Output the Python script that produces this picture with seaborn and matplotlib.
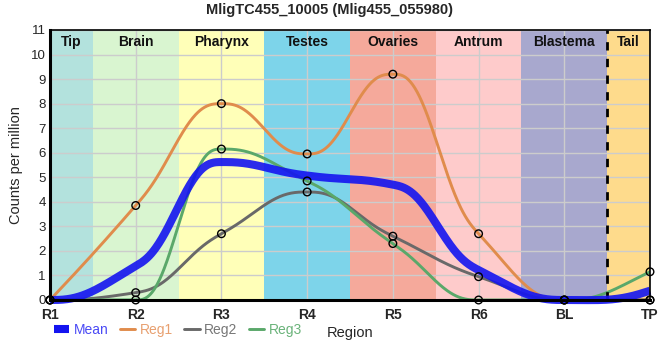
import numpy as np
import pandas as pd
import matplotlib
matplotlib.use("Agg")
import matplotlib.pyplot as plt
import seaborn as sns
from matplotlib.lines import Line2D

regions = ["R1", "R2", "R3", "R4", "R5", "R6", "BL", "TP"]
reg1 = [0.0, 3.85, 8.0, 5.95, 9.2, 2.7, 0.0, 0.0]
reg2 = [0.0, 0.3, 2.7, 4.4, 2.6, 0.95, 0.0, 0.0]
reg3 = [0.0, 0.0, 6.15, 4.85, 2.3, 0.0, 0.0, 1.15]
mean = [0.0, 1.38, 5.62, 5.07, 4.7, 1.22, 0.0, 0.38]

band_names = ["Tip", "Brain", "Pharynx", "Testes", "Ovaries", "Antrum", "Blastema", "Tail"]
band_colors = ["#b3e2dd", "#d9f5d0", "#ffffb8", "#7dd4ea", "#f5a99b", "#fecbcb", "#a8a8ce", "#fedb8c"]

title = "MligTC455_10005 (Mlig455_055980)"


def smooth_curve(x, y, xn):
    """Monotone (PCHIP) tangents with quintic Hermite segments."""
    x = np.asarray(x, float); y = np.asarray(y, float)
    h = np.diff(x); d = np.diff(y) / h
    n = len(x); m = np.zeros(n)
    for k in range(1, n - 1):
        if d[k - 1] * d[k] <= 0:
            m[k] = 0
        else:
            w1 = 2 * h[k] + h[k - 1]; w2 = h[k] + 2 * h[k - 1]
            m[k] = (w1 + w2) / (w1 / d[k - 1] + w2 / d[k])
    def endp(h0, h1, d0, d1):
        s = ((2 * h0 + h1) * d0 - h0 * d1) / (h0 + h1)
        if np.sign(s) != np.sign(d0):
            s = 0
        elif np.sign(d0) != np.sign(d1) and abs(s) > 3 * abs(d0):
            s = 3 * d0
        return s
    m[0] = endp(h[0], h[1], d[0], d[1])
    m[-1] = endp(h[-1], h[-2], d[-1], d[-2])
    idx = np.clip(np.searchsorted(x, xn) - 1, 0, n - 2)
    t = (xn - x[idx]) / h[idx]
    h00 = 1 - 10 * t**3 + 15 * t**4 - 6 * t**5
    h01 = 10 * t**3 - 15 * t**4 + 6 * t**5
    h10 = t - 6 * t**3 + 8 * t**4 - 3 * t**5
    h11 = -4 * t**3 + 7 * t**4 - 3 * t**5
    return h00 * y[idx] + h10 * h[idx] * m[idx] + h01 * y[idx + 1] + h11 * h[idx] * m[idx + 1]


xpos = np.arange(len(regions))
xd = np.linspace(0, len(regions) - 1, 800)

sns.set_theme(style="white")
plt.rcParams["font.family"] = ["Liberation Sans", "DejaVu Sans"]

fig = plt.figure(figsize=(6.6, 3.6), dpi=100)
ax = fig.add_axes([50 / 660, 60 / 360, 600 / 660, 270 / 360])

for i, (nm, c) in enumerate(zip(band_names, band_colors)):
    lo = max(i - 0.5, 0); hi = min(i + 0.5, len(regions) - 1)
    ax.axvspan(lo, hi, color=c, lw=0, zorder=0)
    ax.text((lo + hi) / 2, 10.5, nm, ha="center", va="center", fontsize=10,
            fontweight="bold", color="#111111", zorder=5)

ax.set_xlim(0, len(regions) - 1)
ax.set_ylim(0, 11)
ax.set_yticks(range(0, 12))
ax.set_xticks(xpos)
ax.set_xticklabels(regions, fontweight="bold")
ax.grid(True, color="#cccccc", lw=1, zorder=1)
for gl in ax.get_xgridlines() + ax.get_ygridlines():
    gl.set_zorder(1)

ax.axvline(6.5, color="black", lw=2, ls=(0, (3, 3)), zorder=4)

series = [("Reg1", reg1, "#e08c4c"), ("Reg2", reg2, "#696969"), ("Reg3", reg3, "#5aa86a")]
for name, vals, col in series:
    df = pd.DataFrame({"x": xd, "y": smooth_curve(xpos, vals, xd)})
    sns.lineplot(data=df, x="x", y="y", ax=ax, color=col, lw=2.1, zorder=3)

dfm = pd.DataFrame({"x": xd, "y": smooth_curve(xpos, mean, xd)})
sns.lineplot(data=dfm, x="x", y="y", ax=ax, color="#1414f0", lw=5.8, alpha=0.9, zorder=4)
ln = ax.lines[-1]
ln.set_clip_on(False)
ln.set_solid_capstyle("butt")

for name, vals, col in series:
    dfp = pd.DataFrame({"x": xpos, "y": vals})
    sns.scatterplot(data=dfp, x="x", y="y", ax=ax, s=30, facecolor="none",
                    edgecolor="black", linewidth=1, zorder=6, clip_on=False)

for sp in ["left", "bottom"]:
    ax.spines[sp].set_linewidth(2.2)
for sp in ["top", "right"]:
    ax.spines[sp].set_linewidth(1.2)
for sp in ax.spines.values():
    sp.set_color("black"); sp.set_zorder(7)

ax.tick_params(axis="x", length=4, width=1, color="black", labelsize=10, pad=2)
ax.tick_params(axis="y", length=0, labelsize=9.5, pad=3)
ax.set_ylabel("Counts per million", fontsize=10.5, labelpad=6)
ax.set_xlabel("Region", fontsize=10.5, labelpad=3)
fig.text(0.5, 1 - 10 / 360, title, ha="center", va="center", fontsize=10.5, fontweight="bold")

handles = [Line2D([], [], color="#1414f0", lw=5.8, solid_capstyle="butt"),
           Line2D([], [], color="#e08c4c", lw=2.1),
           Line2D([], [], color="#696969", lw=2.1),
           Line2D([], [], color="#5aa86a", lw=2.1)]
labels = ["Mean", "Reg1", "Reg2", "Reg3"]
leg = fig.legend(handles, labels, loc="center left", bbox_to_anchor=(54 / 660, 1 - 330 / 360),
                 ncol=4, frameon=False, fontsize=10, handlelength=1.1, handletextpad=0.3,
                 columnspacing=0.85, borderaxespad=0, borderpad=0)
for txt, c in zip(leg.get_texts(), ["#4a4af5", "#e8a070", "#777777", "#6ab37a"]):
    txt.set_color(c)

fig.savefig("out.png", dpi=100)
